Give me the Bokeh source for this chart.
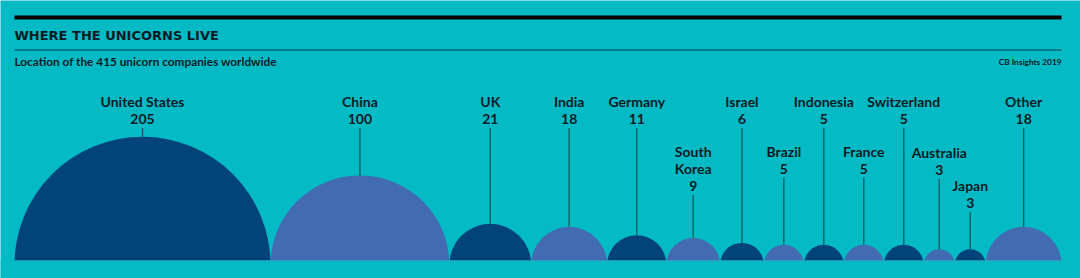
import numpy as np
from bokeh.plotting import figure
from bokeh.models import Range1d
from bokeh.embed import file_html
from bokeh.resources import INLINE
from bokeh.core.properties import value as bv

# ---- data ----
countries = ["United States", "China", "UK", "India", "Germany", "South Korea", "Israel",
             "Brazil", "Indonesia", "France", "Switzerland", "Australia", "Japan", "Other"]
unicorns = [205, 100, 21, 18, 11, 9, 6, 5, 5, 5, 5, 3, 3, 18]
label_names = ["United States", "China", "UK", "India", "Germany", "South\nKorea", "Israel",
               "Brazil", "Indonesia", "France", "Switzerland", "Australia", "Japan", "Other"]
title = "WHERE THE UNICORNS LIVE"
subtitle = "Location of the 415 unicorn companies worldwide"
source_note = "CB Insights 2019"

# ---- layout / style ----
W, H = 1080, 278
BASE = 260          # baseline (pixel from top)
K = 8.94            # radius scale: r = K * sqrt(value)
LEFT = 14
DROP = 4.3          # circle centres sit slightly below the baseline
LINE_H = 17.5
tier_y = [101, 101, 101, 101, 101, 150.5, 101, 150.5, 101, 150.5, 101, 152, 185, 101]

BG = "#03BAC5"
DARK = "#02437A"
MID = "#436BB2"
TXT = "#0A1A24"
LEADER = "#0D6168"
FONT = "Lato"

vals = np.array(unicorns, dtype=float)
radii = K * np.sqrt(vals)
right_edges = LEFT + np.cumsum(2 * radii)
cx = right_edges - radii
cy = np.full(len(vals), BASE + DROP)
colors = [DARK if i % 2 == 0 else MID for i in range(len(vals))]

p = figure(width=W, height=H, output_backend="svg", toolbar_location=None,
           x_range=Range1d(0, W), y_range=Range1d(H, 0), min_border=0)
p.axis.visible = False
p.grid.visible = False
p.outline_line_color = None
p.background_fill_color = BG
p.border_fill_color = BG

# bubbles
p.circle(x=cx, y=cy, radius=radii, fill_color=colors, line_color=None)
# cover below baseline
p.quad(left=[0], right=[W], top=[BASE], bottom=[H], fill_color=BG, line_color=None)
p.segment(x0=[LEFT], x1=[right_edges[-1]], y0=[BASE + 0.5], y1=[BASE + 0.5],
          line_color="#2AA9C2", line_width=1)

# labels + leaders
tx, ty, tt = [], [], []
lx, ly0, ly1 = [], [], []
for i, name in enumerate(label_names):
    lines = name.split("\n") + [str(unicorns[i])]
    for j, s in enumerate(lines):
        tx.append(cx[i]); ty.append(tier_y[i] + j * LINE_H); tt.append(s)
    last = tier_y[i] + (len(lines) - 1) * LINE_H
    lx.append(cx[i]); ly0.append(last + 9); ly1.append(BASE + DROP - radii[i])

p.segment(x0=lx, x1=lx, y0=ly0, y1=ly1, line_color=LEADER, line_width=1.4)
p.text(x=tx, y=ty, text=tt, text_align="center", text_baseline="middle",
       text_font=bv(FONT), text_font_style="bold", text_font_size="14px", text_color=TXT)

# header
p.segment(x0=[LEFT], x1=[1061], y0=[17], y1=[17], line_color="#000000", line_width=4)
p.segment(x0=[LEFT], x1=[1061], y0=[49.5], y1=[49.5], line_color="#0B3A44", line_width=1)
p.text(x=[LEFT], y=[35], text=[title], text_align="left", text_baseline="middle",
       text_font=bv("DejaVu Sans"), text_font_style="bold", text_font_size="13px", text_color=TXT)
p.text(x=[LEFT], y=[61], text=[subtitle], text_align="left", text_baseline="middle",
       text_font=bv(FONT), text_font_style="bold", text_font_size="11.8px", text_color=TXT)
p.text(x=[1061], y=[61], text=[source_note], text_align="right", text_baseline="middle",
       text_font=bv(FONT), text_font_style="bold", text_font_size="8.3px", text_color=TXT)

open("out.html", "w").write(file_html(p, INLINE))
